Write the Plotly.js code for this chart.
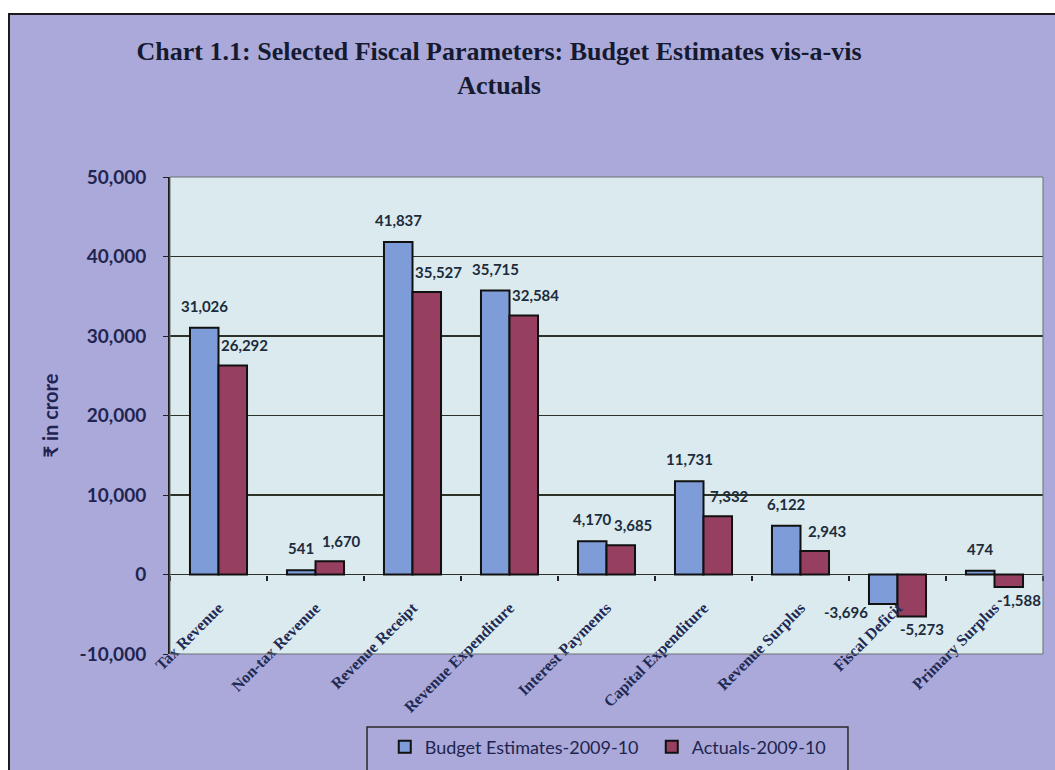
<!DOCTYPE html>
<html><head><meta charset="utf-8">
<script src="https://cdn.plot.ly/plotly-3.0.1.min.js"></script>
<style>
html,body{margin:0;padding:0;background:#ffffff;overflow:hidden;width:1055px;height:770px;}
#frame{position:absolute;left:8px;top:13px;width:1100px;height:800px;border-left:2px solid #1b1b1b;border-top:2px solid #1b1b1b;background:#aaa9d9;}
#chart{position:absolute;left:0;top:0;width:1045px;height:755px;}
</style></head>
<body><div id="frame"><div id="chart"></div></div>
<script>
const categories = ["Tax Revenue", "Non-tax Revenue", "Revenue Receipt", "Revenue Expenditure",
  "Interest Payments", "Capital Expenditure", "Revenue Surplus", "Fiscal Deficit", "Primary Surplus"];
const budgetEstimates = [31026, 541, 41837, 35715, 4170, 11731, 6122, -3696, 474];
const actuals = [26292, 1670, 35527, 32584, 3685, 7332, 2943, -5273, -1588];
const seriesNames = ["Budget Estimates-2009-10", "Actuals-2009-10"];
const yTickValues = [-10000, 0, 10000, 20000, 30000, 40000, 50000];
const yTickLabels = ["-10,000", "0", "10,000", "20,000", "30,000", "40,000", "50,000"];

const BLUE = "#7e9cd8", MAROON = "#963f61";
const BARGAP = 0.412;
const half = (1 - BARGAP) / 4;
const fmt = v => v.toLocaleString("en-US");

const traces = [
  {type: "bar", name: seriesNames[0], x: categories, y: budgetEstimates,
   marker: {color: BLUE, line: {color: "#111", width: 2}}, hoverinfo: "x+y"},
  {type: "bar", name: seriesNames[1], x: categories, y: actuals,
   marker: {color: MAROON, line: {color: "#111", width: 2}}, hoverinfo: "x+y"}
];

const labelFont = {family: "Lato, 'Noto Sans', sans-serif", size: 15, color: "#1c2c3c", weight: 700};
const annotations = [];
budgetEstimates.forEach((v, i) => {
  annotations.push({x: i - half, y: v, xref: "x", yref: "y", text: "<b>" + fmt(v) + "</b>",
    showarrow: false, font: labelFont,
    xshift: v >= 0 ? 0 : -37, yshift: v >= 0 ? 22 : -8});
});
actuals.forEach((v, i) => {
  annotations.push({x: i + half, y: v, xref: "x", yref: "y", text: "<b>" + fmt(v) + "</b>",
    showarrow: false, font: labelFont,
    xshift: v >= 0 ? 12 : 10, yshift: v >= 0 ? 20 : -13});
});
annotations.push({xref: "paper", yref: "paper", x: -0.1375, xanchor: "center", y: 0.5, yanchor: "middle",
  text: "<b>₹ in crore</b>", textangle: -90, showarrow: false,
  font: {family: "Lato, 'Noto Sans', sans-serif", size: 20, color: "#1f2450"}});

const layout = {
  width: 1045, height: 755,
  margin: {l: 160, r: 12, t: 162, b: 116, autoexpand: false},
  paper_bgcolor: "#aaa9d9",
  plot_bgcolor: "#dbeaee",
  barmode: "group", bargap: BARGAP, bargroupgap: 0,
  showlegend: true,
  title: {text: "<b>Chart 1.1: Selected Fiscal Parameters: Budget Estimates vis-a-vis<br>Actuals</b>",
    x: 0.468, xanchor: "center", xref: "container", y: 0.94, yanchor: "top", yref: "container",
    font: {family: "'Liberation Serif', 'Times New Roman', serif", size: 26, color: "#151a30"}},
  xaxis: {type: "category", anchor: "free", position: 1/6, range: [-0.5, 8.5], automargin: false,
    tickson: "boundaries", ticks: "outside", ticklen: 5, tickcolor: "#222", tickwidth: 1.5,
    showline: false, showgrid: false, tickangle: -45, ticklabelstandoff: 20,
    tickfont: {family: "'Liberation Serif', 'Times New Roman', serif", size: 16, color: "#1f2a55", weight: 700}},
  yaxis: {range: [-10000, 50000], tickvals: yTickValues, ticktext: yTickLabels, automargin: false,
    showgrid: true, gridcolor: "#2c3228", gridwidth: 1.5, zeroline: true, zerolinecolor: "#2c3228", zerolinewidth: 1.5,
    showline: true, linecolor: "#1b1b1b", linewidth: 2, ticks: "outside", ticklen: 5, tickcolor: "#222",
    ticklabelstandoff: 13,
    tickfont: {family: "Lato, 'Noto Sans', sans-serif", size: 19, color: "#1f2450", weight: 700}},
  legend: {orientation: "h", x: 0.246, xanchor: "left", y: -0.195, yanchor: "middle",
    bgcolor: "rgba(0,0,0,0)", borderwidth: 0, entrywidth: 222,
    font: {family: "Lato, 'Noto Sans', sans-serif", size: 18, color: "#1f2450"}},
  shapes: [
    {type: "rect", xref: "paper", yref: "paper", x0: 0, x1: 1, y0: 0, y1: 1,
     line: {color: "#6a6f70", width: 1}, fillcolor: "rgba(0,0,0,0)"},
    {type: "rect", xref: "paper", yref: "paper", x0: 0.2257, x1: 0.7766, y0: -0.26, y1: -0.153,
     line: {color: "#2a2a2a", width: 1.5}, fillcolor: "rgba(0,0,0,0)"}
  ],
  annotations: annotations
};

Plotly.newPlot("chart", traces, layout, {displayModeBar: false, staticPlot: true});
</script>
</body></html>
